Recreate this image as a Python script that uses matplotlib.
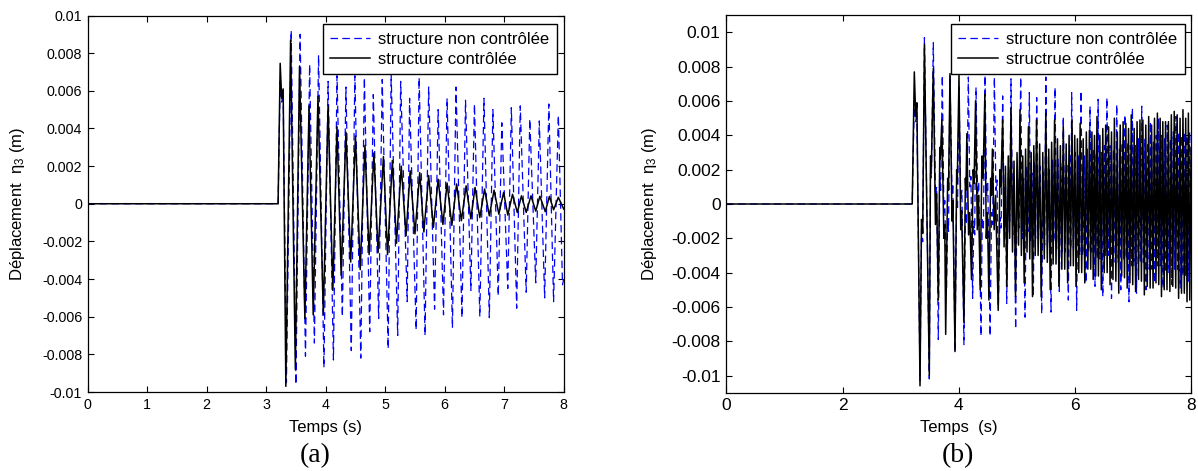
import matplotlib
matplotlib.use("Agg")
import matplotlib.pyplot as plt
import numpy as np

plt.rcParams['font.family'] = ['Liberation Sans', 'DejaVu Sans']
plt.rcParams['mathtext.fontset'] = 'custom'
plt.rcParams['mathtext.rm'] = 'Liberation Sans'
plt.rcParams['mathtext.it'] = 'Liberation Sans:italic'

# ---------------- data (values in 1e-3 m) ----------------
# panel (a) : extremes of each curve
black_a_t = [0, 3.20, 3.235, 3.26, 3.285, 3.33, 3.41, 3.49, 3.56, 3.65, 3.72, 3.79, 3.87, 3.96, 4.04,
             4.12, 4.19, 4.26, 4.34, 4.42, 4.50, 4.58, 4.66, 4.73, 4.81, 4.88, 4.97, 5.04, 5.12, 5.19,
             5.27, 5.35, 5.42, 5.50, 5.58, 5.65, 5.73, 5.81, 5.89, 5.97, 6.04, 6.12, 6.20, 6.28, 6.36,
             6.44, 6.51, 6.59, 6.67, 6.75, 6.83, 6.91, 6.99, 7.06, 7.14, 7.22, 7.29, 7.37, 7.45, 7.53,
             7.60, 7.69, 7.76, 7.83, 7.91, 8.0]
black_a_v = [0, 0, 7.46, 5.6, 6.1, -9.7, 8.7, -8.8, 7.3, -6.1, 5.2, -5.9, 5.7, -5.9, 5.2,
             -4.6, 4.1, -3.8, 3.8, -3.1, 3.6, -3.5, 3.1, -2.7, 2.7, -2.6, 2.5, -2.7, 2.3, -2.1,
             2.0, -1.7, 1.75, -1.6, 1.65, -1.5, 1.5, -1.25, 1.3, -1.1, 1.1, -1.15, 1.05, -0.9, 0.95,
             -0.8, 0.87, -0.73, 0.78, -0.64, 0.72, -0.55, 0.6, -0.6, 0.5, -0.46, 0.42, -0.46, 0.42, -0.39,
             0.4, -0.42, 0.39, -0.32, 0.34, -0.28]

blue_a_t = [0, 3.20, 3.235, 3.26, 3.285, 3.34, 3.42, 3.50, 3.57, 3.66, 3.73, 3.81, 3.88, 3.97, 4.04,
            4.13, 4.19, 4.28, 4.34, 4.43, 4.49, 4.59, 4.65, 4.74, 4.80, 4.89, 4.95, 5.05, 5.10, 5.21,
            5.26, 5.37, 5.41, 5.52, 5.57, 5.67, 5.73, 5.83, 5.89, 5.98, 6.04, 6.13, 6.19, 6.29, 6.35,
            6.44, 6.50, 6.59, 6.66, 6.75, 6.81, 6.90, 6.96, 7.06, 7.12, 7.21, 7.27, 7.37, 7.43, 7.53,
            7.59, 7.68, 7.75, 7.83, 7.91, 7.98, 8.0]
blue_a_v = [0, 0, 6.5, 5.4, 5.9, -9.5, 9.2, -9.6, 9.0, -8.1, 7.4, -7.4, 7.9, -8.7, 6.5,
            -8.3, 6.8, -6.0, 6.2, -7.8, 6.8, -8.2, 6.7, -6.8, 5.8, -6.1, 6.6, -7.7, 6.9, -7.0,
            6.5, -5.2, 5.6, -6.7, 6.7, -7.0, 6.2, -5.6, 5.0, -5.9, 5.6, -6.6, 6.2, -6.05, 5.5,
            -4.6, 5.3, -6.0, 5.6, -6.05, 5.0, -4.9, 4.3, -4.5, 5.1, -5.55, 5.2, -4.7, 4.5, -4.2,
            4.4, -5.0, 5.3, -5.2, 4.7, -4.3, -4.0]

# panel (b) : early transient extremes
black_b_early_t = [0, 3.20, 3.236, 3.26, 3.28, 3.334, 3.36, 3.38, 3.41, 3.494, 3.515, 3.53, 3.563, 3.60, 3.62,
                   3.649, 3.675, 3.685, 3.71, 3.745, 3.76, 3.776, 3.81, 3.825, 3.85, 3.885, 3.90, 3.936, 3.965, 3.975,
                   4.005, 4.035, 4.05, 4.09, 4.115, 4.125, 4.14, 4.17, 4.19, 4.22, 4.25, 4.265, 4.29, 4.32, 4.34,
                   4.37, 4.40, 4.42, 4.45, 4.475, 4.495, 4.52, 4.55, 4.565, 4.58, 4.61, 4.635, 4.68, 4.71, 4.725]
black_b_early_v = [0, 0, 7.7, 5.1, 5.9, -10.6, -0.9, -1.7, 9.3, -10.0, 2.8, 2.2, 7.9, -1.2, 0.6,
                   -5.6, 3.3, 2.6, 4.9, -2.0, -1.2, -7.6, 1.5, 0.8, 7.6, -1.0, 0.2, -8.6, 2.0, 1.2,
                   7.5, -1.5, -0.4, -6.9, 1.5, 0.8, 4.1, -1.8, -0.5, -4.4, 2.0, 1.2, 6.0, -1.5, 0.5,
                   -5.0, 2.8, 1.5, 6.4, -2.0, -0.5, -5.6, 1.5, 0.5, 3.2, -1.5, 0.5, -6.2, 2.0, 1.0]

# panel (b) : later cycles, six extremes per cycle
black_b_cyc_t = [
    [4.757, 4.781, 4.805, 4.829, 4.853, 4.877],
    [4.900, 4.926, 4.952, 4.978, 5.004, 5.030],
    [5.055, 5.079, 5.103, 5.127, 5.151, 5.176],
    [5.200, 5.223, 5.247, 5.270, 5.293, 5.317],
    [5.340, 5.367, 5.393, 5.420, 5.447, 5.473],
    [5.500, 5.525, 5.550, 5.575, 5.600, 5.625],
    [5.650, 5.675, 5.700, 5.725, 5.750, 5.775],
    [5.800, 5.825, 5.850, 5.875, 5.900, 5.925],
    [5.950, 5.973, 5.997, 6.020, 6.043, 6.067],
    [6.090, 6.117, 6.143, 6.170, 6.197, 6.223],
    [6.250, 6.272, 6.293, 6.315, 6.337, 6.358],
    [6.380, 6.405, 6.430, 6.455, 6.480, 6.505],
    [6.530, 6.555, 6.580, 6.605, 6.630, 6.655],
    [6.680, 6.705, 6.730, 6.755, 6.780, 6.805],
    [6.830, 6.853, 6.877, 6.900, 6.923, 6.947],
    [6.970, 6.995, 7.020, 7.045, 7.070, 7.095],
    [7.120, 7.145, 7.170, 7.195, 7.220, 7.245],
    [7.270, 7.295, 7.320, 7.345, 7.370, 7.395],
    [7.420, 7.443, 7.467, 7.490, 7.513, 7.537],
    [7.560, 7.585, 7.610, 7.635, 7.660, 7.685],
    [7.710, 7.735, 7.760, 7.785, 7.810, 7.835],
    [7.860, 7.883, 7.907, 7.930, 7.953, 7.977],
    [8.0]]
black_b_cyc_v = [
    [4.9, -2.5, 2.2, -4.8, 2.8, -2.0],
    [5.6, -2.8, 2.5, -5.4, 3.0, -2.4],
    [5.5, -3.0, 2.8, -4.6, 3.2, -2.8],
    [4.5, -3.2, 3.0, -5.4, 3.4, -3.0],
    [4.9, -3.0, 3.5, -5.4, 3.0, -3.2],
    [5.3, -3.4, 3.2, -5.0, 3.6, -3.5],
    [4.9, -3.5, 3.8, -4.8, 3.4, -3.8],
    [4.5, -3.8, 3.5, -4.6, 4.0, -3.6],
    [4.9, -3.6, 4.0, -4.8, 3.8, -4.0],
    [4.7, -4.0, 3.8, -4.6, 4.2, -3.8],
    [4.3, -3.8, 4.2, -4.4, 4.0, -4.2],
    [5.1, -4.2, 4.0, -5.0, 4.4, -4.0],
    [4.6, -4.0, 4.5, -4.7, 4.2, -4.4],
    [5.0, -4.5, 4.2, -5.2, 4.6, -4.2],
    [4.8, -4.3, 4.7, -4.9, 4.4, -4.6],
    [5.2, -4.7, 4.4, -5.1, 4.8, -4.4],
    [4.9, -4.5, 4.9, -5.3, 4.6, -4.8],
    [5.1, -4.9, 4.6, -4.9, 5.0, -4.6],
    [5.3, -4.7, 5.0, -5.4, 4.8, -5.0],
    [4.8, -5.0, 4.8, -5.1, 5.2, -4.8],
    [5.4, -4.9, 5.2, -5.5, 5.0, -5.2],
    [5.5, -5.2, 5.0, -5.7, 5.3, -5.6],
    [3.3]]

blue_b_early_t = [0, 3.20, 3.236, 3.26, 3.28, 3.334, 3.36, 3.38, 3.41, 3.494, 3.515, 3.53, 3.563, 3.60, 3.62,
                  3.649, 3.675, 3.69, 3.718, 3.745, 3.76, 3.79, 3.81, 3.825, 3.85, 3.885, 3.90, 3.936, 3.965, 3.98,
                  4.005, 4.035, 4.055, 4.09, 4.115, 4.135, 4.166, 4.19, 4.21, 4.24, 4.26, 4.275, 4.298, 4.325, 4.345,
                  4.384, 4.405, 4.425, 4.453, 4.48, 4.50, 4.54, 4.565, 4.585, 4.614, 4.64, 4.66, 4.683, 4.71, 4.73]
blue_b_early_v = [0, 0, 6.0, 4.8, 5.4, -10.3, -1.5, -2.2, 9.7, -10.2, 2.0, 1.5, 9.4, 0.5, 1.0,
                  -7.9, 1.5, 0.8, 7.5, -0.5, 0.2, -5.0, -1.0, -1.6, 7.5, 0.5, 1.2, -8.6, 0.5, -0.2,
                  6.8, 0.2, 0.8, -8.2, -0.5, -1.2, 7.4, 1.0, 1.6, -5.5, -1.0, -1.8, 6.8, 0.5, 1.3,
                  -7.7, -0.8, -1.5, 7.5, 0.5, 1.2, -7.7, -0.5, -1.2, 7.4, 0.8, 1.4, -6.0, -0.8, -1.4]

blue_b_cyc_t = [
    [4.757, 4.785, 4.805, 4.826, 4.855, 4.878],
    [4.900, 4.930, 4.955, 4.980, 5.010, 5.038],
    [5.067, 5.095, 5.118, 5.141, 5.170, 5.193],
    [5.216, 5.240, 5.262, 5.285, 5.305, 5.323],
    [5.342, 5.372, 5.400, 5.428, 5.455, 5.478],
    [5.500, 5.528, 5.560, 5.589, 5.615, 5.637],
    [5.658, 5.685, 5.710, 5.732, 5.758, 5.780],
    [5.800, 5.830, 5.860, 5.887, 5.912, 5.928],
    [5.944, 5.975, 6.005, 6.030, 6.060, 6.083],
    [6.105, 6.135, 6.165, 6.190, 6.215, 6.238],
    [6.260, 6.287, 6.317, 6.346, 6.368, 6.385],
    [6.400, 6.428, 6.455, 6.480, 6.508, 6.530],
    [6.550, 6.580, 6.605, 6.630, 6.665, 6.695],
    [6.720, 6.745, 6.768, 6.790, 6.815, 6.840],
    [6.860, 6.885, 6.910, 6.930, 6.955, 6.975],
    [6.990, 7.015, 7.040, 7.060, 7.095, 7.125],
    [7.150, 7.178, 7.203, 7.225, 7.255, 7.280],
    [7.300, 7.325, 7.350, 7.372, 7.400, 7.422],
    [7.440, 7.468, 7.495, 7.518, 7.545, 7.568],
    [7.590, 7.618, 7.643, 7.665, 7.693, 7.718],
    [7.740, 7.766, 7.790, 7.812, 7.838, 7.860],
    [7.880, 7.905, 7.928, 7.950, 7.975, 8.000]]
blue_b_cyc_v = [
    [6.3, -1.5, 1.0, -5.8, 1.8, -1.0],
    [7.3, -1.8, 1.2, -7.3, 2.0, -1.4],
    [7.4, -2.0, 1.5, -6.6, 2.2, -1.6],
    [6.5, -2.2, 1.8, -5.4, 2.4, -2.0],
    [6.2, -2.0, 2.2, -6.4, 2.0, -2.4],
    [7.4, -2.5, 2.0, -6.3, 2.6, -2.2],
    [6.8, -2.6, 2.6, -5.1, 2.4, -2.8],
    [5.1, -2.8, 2.4, -5.6, 3.0, -2.6],
    [6.5, -2.6, 3.0, -6.2, 2.8, -3.0],
    [6.6, -3.0, 2.8, -4.6, 3.2, -2.8],
    [5.7, -2.8, 3.2, -4.8, 3.0, -3.2],
    [6.1, -3.2, 3.0, -5.4, 3.4, -3.0],
    [6.2, -3.0, 3.4, -5.5, 3.2, -3.4],
    [5.8, -3.4, 3.2, -5.0, 3.6, -3.2],
    [5.2, -3.2, 3.6, -5.7, 3.4, -3.6],
    [5.6, -3.6, 3.4, -5.2, 3.8, -3.4],
    [5.7, -3.4, 3.8, -5.0, 3.6, -3.8],
    [4.8, -3.8, 3.6, -4.6, 4.0, -3.6],
    [5.0, -3.6, 4.0, -4.9, 3.8, -4.0],
    [4.6, -4.0, 3.8, -4.7, 4.2, -3.8],
    [5.1, -3.8, 4.2, -4.9, 4.0, -4.2],
    [4.2, -4.2, 4.0, -4.5, 4.2, -2.0]]

x_ticks_a = [0, 1, 2, 3, 4, 5, 6, 7, 8]
x_ticks_b = [0, 2, 4, 6, 8]
y_ticks = [-0.01, -0.008, -0.006, -0.004, -0.002, 0, 0.002, 0.004, 0.006, 0.008, 0.01]
y_ticklabels = ['-0.01', '-0.008', '-0.006', '-0.004', '-0.002', '0',
                '0.002', '0.004', '0.006', '0.008', '0.01']
legend_a = ['structure non contrôlée', 'structure contrôlée']
legend_b = ['structure non contrôlée', 'structrue contrôlée']
xlabel_a = 'Temps (s)'
xlabel_b = 'Temps  (s)'
ylabel = 'Déplacement  η$_3$ (m)'


def flat(rows):
    return [x for r in rows for x in r]


MM = 1e-3
W, H = 1198, 471
fig = plt.figure(figsize=(W / 100, H / 100), dpi=100)

ax_a = fig.add_axes([87.7 / W, 1 - 392 / H, 476 / W, 376.5 / H])
ax_b = fig.add_axes([726.3 / W, 1 - 392.7 / H, 464.8 / W, 377.4 / H])

blue_kw = dict(color='#0000ff', lw=0.9, linestyle=(0, (6, 3.5)))
black_kw = dict(color='black', lw=1.1)

ax_a.plot(blue_a_t, np.array(blue_a_v) * MM, **blue_kw, label=legend_a[0])
ax_a.plot(black_a_t, np.array(black_a_v) * MM, **black_kw, label=legend_a[1])

bt = black_b_early_t + flat(black_b_cyc_t)
bv = black_b_early_v + flat(black_b_cyc_v)
ut = blue_b_early_t + flat(blue_b_cyc_t)
uv = blue_b_early_v + flat(blue_b_cyc_v)
ax_b.plot(ut, np.array(uv) * MM, **blue_kw, label=legend_b[0])
ax_b.plot(bt, np.array(bv) * MM, **black_kw, label=legend_b[1])

for ax, xt, ylim, fs, xl, leg_right, ylab_x in [
        (ax_a, x_ticks_a, 0.01, 10.3, xlabel_a, 557, -0.1485),
        (ax_b, x_ticks_b, 0.011, 12.5, xlabel_b, 1185, -0.166)]:
    ax.set_xlim(0, 8)
    ax.set_ylim(-ylim, ylim)
    ax.set_xticks(xt)
    ax.set_xticklabels([str(v) for v in xt])
    ax.set_yticks(y_ticks)
    ax.set_yticklabels(y_ticklabels)
    ax.tick_params(direction='in', top=True, right=True, length=4, width=0.8,
                   labelsize=fs, pad=4)
    for s in ax.spines.values():
        s.set_linewidth(0.9)
    ax.set_xlabel(xl, fontsize=12)
    ax.xaxis.set_label_coords(0.5, -0.093)
    ax.xaxis.label.set_va('center')
    ax.set_ylabel(ylabel, fontsize=12)
    ax.yaxis.set_label_coords(ylab_x, 0.5)
    ax.yaxis.label.set_va('center')
    leg = ax.legend(loc='upper right', bbox_to_anchor=(leg_right / W, 1 - 24 / H),
                    bbox_transform=fig.transFigure, borderaxespad=0, fontsize=12,
                    handlelength=2.4, handletextpad=0.5, labelspacing=0.3,
                    borderpad=0.45, fancybox=False, framealpha=1)
    leg.get_frame().set_edgecolor('black')
    leg.get_frame().set_linewidth(1.0)

fig.text(315 / W, 1 - 456 / H, '(a)', family=['Liberation Serif'], fontsize=20,
         ha='center', va='center')
fig.text(958 / W, 1 - 456 / H, '(b)', family=['Liberation Serif'], fontsize=20,
         ha='center', va='center')

fig.savefig('out.png', dpi=100)
